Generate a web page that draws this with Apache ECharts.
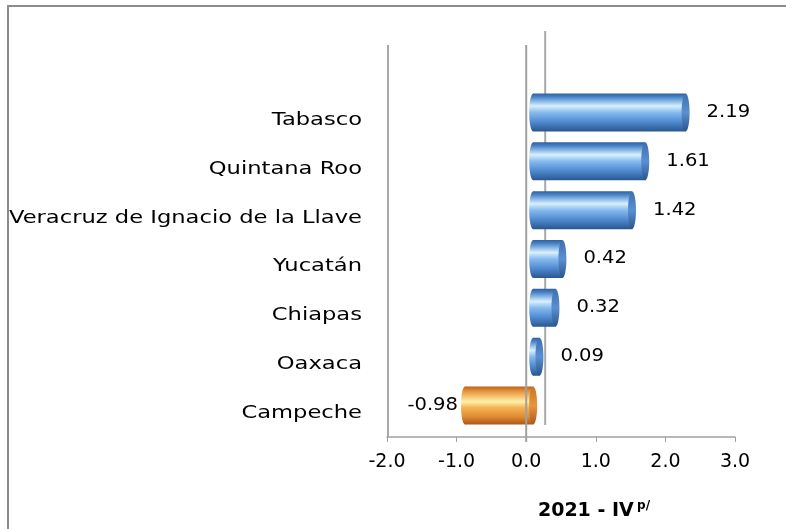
<!DOCTYPE html>
<html>
<head>
<meta charset="utf-8">
<script src="https://cdn.jsdelivr.net/npm/echarts@6/dist/echarts.min.js"></script>
<style>html,body{margin:0;padding:0;background:#fff;overflow:hidden}#c{width:786px;height:529px}</style>
</head>
<body>
<div id="c"></div>
<script>
const categories = ['Tabasco', 'Quintana Roo', 'Veracruz de Ignacio de la Llave', 'Yucatán', 'Chiapas', 'Oaxaca', 'Campeche'];
const values = [2.19, 1.61, 1.42, 0.42, 0.32, 0.09, -0.98];
const xTicks = [-2, -1, 0, 1, 2, 3];
const axisTitle = '2021 - IV';
const axisTitleSup = 'p/';

const FONT = 'DejaVu Sans';
const chart = echarts.init(document.getElementById('c'), null, {renderer: 'canvas', width: 786, height: 529});

function grad(colors) {
  return new echarts.graphic.LinearGradient(0, 0, 0, 1, colors.map(c => ({offset: c[0], color: c[1]})));
}
const blueBody = grad([[0, '#2f5f9c'], [0.1, '#4a86cc'], [0.33, '#d8f0ff'], [0.5, '#86bbee'], [0.75, '#4f8ad0'], [1, '#2a568f']]);
const blueCap = grad([[0, '#3d6fae'], [0.5, '#5b8fd0'], [1, '#2a558c']]);
const orangeBody = grad([[0, '#b8621a'], [0.12, '#e8923a'], [0.4, '#fff1a8'], [0.55, '#f6b455'], [0.8, '#e08a30'], [1, '#a8561a']]);
const orangeCap = grad([[0, '#c87428'], [0.5, '#e8953e'], [1, '#a8581c']]);

const data = values.map((v, i) => [v, i]);

function renderItem(params, api) {
  const v = api.value(0);
  const idx = api.value(1);
  const p0 = api.coord([0, idx]);
  const p1 = api.coord([v, idx]);
  const pl = api.coord([xTicks[0], idx]);
  const dx = 7, dy = -7, h = 38, rx = 4;
  const xa = Math.min(p0[0], p1[0]) + dx;
  const xb = Math.max(p0[0], p1[0]) + dx;
  const cy = p0[1] + dy;
  const neg = v < 0;
  const body = neg ? orangeBody : blueBody;
  const cap = neg ? orangeCap : blueCap;
  return {type: 'group', children: [
    {type: 'ellipse', shape: {cx: xa, cy: cy, rx: rx, ry: h / 2}, style: {fill: body}},
    {type: 'rect', shape: {x: xa, y: cy - h / 2, width: xb - xa, height: h}, style: {fill: body}},
    {type: 'ellipse', shape: {cx: xb, cy: cy, rx: rx, ry: h / 2}, style: {fill: cap}},
    {type: 'text', x: neg ? xa - rx - 3 : xb + rx + 17, y: cy, scaleX: 1.15,
      style: {text: v.toFixed(2), x: 0, y: 0, align: neg ? 'right' : 'left', verticalAlign: 'middle',
        font: '17px "' + FONT + '"', fill: '#000'}},
    {type: 'text', x: pl[0] - 25, y: pl[1] + 1, scaleX: 1.33,
      style: {text: categories[idx], x: 0, y: 0, align: 'right', verticalAlign: 'middle',
        font: '17px "' + FONT + '"', fill: '#000'}}
  ]};
}

chart.setOption({
  animation: false,
  backgroundColor: '#fff',
  grid: {left: 387, width: 348, top: 95, height: 342, containLabel: false},
  xAxis: {
    type: 'value', min: xTicks[0], max: xTicks[xTicks.length - 1], interval: 1,
    axisLine: {show: true, lineStyle: {color: '#a0a0a0', width: 1.5}},
    axisTick: {show: true, length: 5, lineStyle: {color: '#a0a0a0'}},
    splitLine: {show: false},
    axisLabel: {margin: 16, color: '#000', fontFamily: FONT, fontSize: 19, formatter: v => v.toFixed(1)},
    name: '{b|' + axisTitle + '} {s|' + axisTitleSup + '}',
    nameLocation: 'middle', nameGap: 63,
    nameTextStyle: {
      padding: [0, 0, 0, 66],
      rich: {
        b: {fontFamily: FONT, fontSize: 19, fontWeight: 'bold', color: '#000'},
        s: {fontFamily: FONT, fontSize: 12, fontWeight: 'bold', color: '#000', verticalAlign: 'top', padding: [0, 0, 10, 0]}
      }
    }
  },
  yAxis: {
    type: 'category', data: categories, inverse: true,
    axisLine: {show: false}, axisTick: {show: false}, splitLine: {show: false},
    axisLabel: {show: false}
  },
  series: [{
    type: 'custom', renderItem: renderItem, data: data,
    encode: {x: 0, y: 1}, z: 5
  }]
});

const z0 = chart.convertToPixel({xAxisIndex: 0}, 0);
const xl = chart.convertToPixel({xAxisIndex: 0}, xTicks[0]);
const yBot = 95 + 342, yTop = 45;
chart.setOption({
  graphic: [
    {type: 'rect', shape: {x: 8, y: 6, width: 820, height: 600}, style: {fill: 'none', stroke: '#8c8c8c', lineWidth: 2}, z: 0, silent: true},
    {type: 'line', shape: {x1: z0 + 19, y1: yTop - 14, x2: z0 + 19, y2: yBot - 12}, style: {stroke: '#a8a8a8', lineWidth: 2}, z: 1, silent: true},
    {type: 'line', shape: {x1: xl + 1, y1: yTop, x2: xl + 1, y2: yBot}, style: {stroke: '#a8a8a8', lineWidth: 2}, z: 1, silent: true},
    {type: 'line', shape: {x1: z0, y1: yTop, x2: z0, y2: yBot + 5}, style: {stroke: '#a0a0a0', lineWidth: 2}, z: 20, silent: true}
  ]
});
</script>
</body>
</html>
